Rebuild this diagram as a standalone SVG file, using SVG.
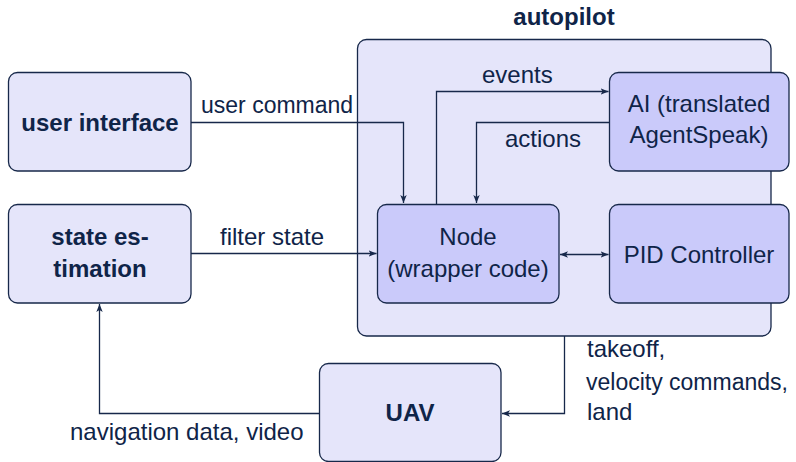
<svg xmlns="http://www.w3.org/2000/svg" width="796" height="462" viewBox="0 0 796 462">
  <style>
    .outer { fill: #e5e5fa; stroke: #17284a; stroke-width: 1.3; }
    .inner { fill: #cacafa; stroke: #17284a; stroke-width: 1.3; }
    .wire { fill: none; stroke: #17284a; stroke-width: 1.3; }
    text { font-family: "Liberation Sans", Arial, sans-serif; font-size: 24px; fill: #0f2448; }
    .b { font-weight: bold; }
    .c { text-anchor: middle; }
    .s { font-size: 23px; }
  </style>
  <defs>
    <marker id="arr" viewBox="0 0 10 10" refX="10" refY="5" markerWidth="8" markerHeight="8" markerUnits="userSpaceOnUse" orient="auto-start-reverse">
      <path d="M0,1 L10,5 L0,9 L2.5,5 Z" fill="#17284a"/>
    </marker>
  </defs>

  <rect width="796" height="462" fill="#ffffff"/>

  <!-- autopilot container -->
  <g id="autopilot">
    <rect class="outer" x="357.5" y="39.5" width="413.5" height="296.5" rx="9"/>
    <text class="b c" x="564" y="25">autopilot</text>
  </g>

  <g id="user-interface">
    <rect class="outer" x="8.5" y="72.5" width="182.5" height="98.5" rx="9"/>
    <text class="b c" x="100" y="131">user interface</text>
  </g>

  <g id="state-estimation">
    <rect class="outer" x="8.5" y="204.5" width="182.5" height="98.5" rx="9"/>
    <text class="b c" x="100" y="245">state es-</text>
    <text class="b c" x="100" y="277">timation</text>
  </g>

  <g id="ai">
    <rect class="inner" x="609.5" y="72.5" width="179.5" height="98.5" rx="9"/>
    <text class="c" x="699" y="112">AI (translated</text>
    <text class="c" x="699" y="143">AgentSpeak)</text>
  </g>

  <g id="node">
    <rect class="inner" x="377.5" y="204.5" width="181.5" height="98.5" rx="9"/>
    <text class="c" x="468" y="245">Node</text>
    <text class="c" x="468" y="277">(wrapper code)</text>
  </g>

  <g id="pid">
    <rect class="inner" x="609.5" y="204.5" width="179.5" height="98.5" rx="9"/>
    <text class="c" x="699" y="263">PID Controller</text>
  </g>

  <g id="uav">
    <rect class="outer" x="319.5" y="363.5" width="181.5" height="98" rx="9"/>
    <text class="b c" x="410" y="421">UAV</text>
  </g>

  <!-- connectors -->
  <g id="connectors">
    <path class="wire" d="M191,122.5 H403.5 V203" marker-end="url(#arr)"/>
    <path class="wire" d="M191,253.5 H376.5" marker-end="url(#arr)"/>
    <path class="wire" d="M436.5,204 V91.5 H608.5" marker-end="url(#arr)"/>
    <path class="wire" d="M609,122.5 H476.5 V203" marker-end="url(#arr)"/>
    <path class="wire" d="M560,254.5 H608.5" marker-start="url(#arr)" marker-end="url(#arr)"/>
    <path class="wire" d="M564.5,336 V413.5 H502" marker-end="url(#arr)"/>
    <path class="wire" d="M319,413.5 H99.5 V304" marker-end="url(#arr)"/>

    <text class="s" x="201" y="113">user command</text>
    <text x="220" y="245">filter state</text>
    <text x="482" y="83">events</text>
    <text x="505" y="147">actions</text>
    <text x="587" y="357">takeoff,</text>
    <text class="s" x="586" y="390">velocity commands,</text>
    <text x="587" y="420">land</text>
    <text x="70" y="440">navigation data, video</text>
  </g>
</svg>
